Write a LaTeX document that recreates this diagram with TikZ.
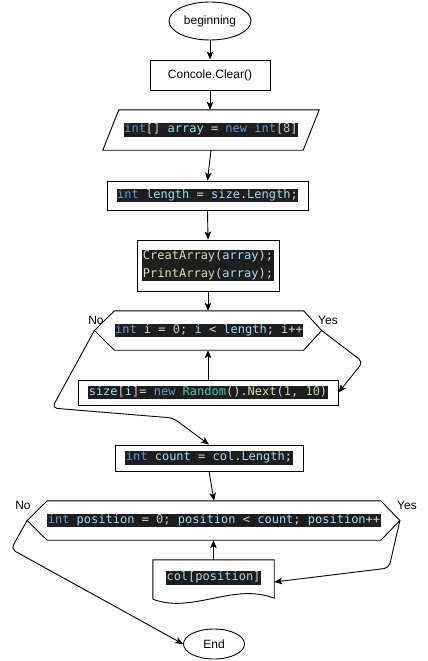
\documentclass[tikz,border=0pt]{standalone}
\usepackage{fontspec}
\setmainfont{Liberation Sans}
\newfontfamily\codefont{DejaVu Sans Mono}
\usetikzlibrary{shapes.geometric,calc,arrows.meta}

% editor-style colours for the code snippets
\definecolor{codebg}{HTML}{1E1E1E}
\definecolor{codekw}{HTML}{569CD6}
\definecolor{codevar}{HTML}{9CDCFE}
\definecolor{codenum}{HTML}{B5CEA8}
\definecolor{codefun}{HTML}{DCDCAA}
\definecolor{codecls}{HTML}{4EC9B0}
\definecolor{codeop}{HTML}{D4D4D4}

\newcommand{\ckw}[1]{\textcolor{codekw}{#1}}
\newcommand{\cvar}[1]{\textcolor{codevar}{#1}}
\newcommand{\cnum}[1]{\textcolor{codenum}{#1}}
\newcommand{\cfun}[1]{\textcolor{codefun}{#1}}
\newcommand{\ccls}[1]{\textcolor{codecls}{#1}}
\newcommand{\cop}[1]{\textcolor{codeop}{#1}}
\newcommand{\codestrut}{\rule[-3.6pt]{0pt}{12.6pt}}
% one highlighted line of code
\newcommand{\codeline}[1]{{\setlength{\fboxsep}{0.5pt}\colorbox{codebg}{\codefont\fontsize{12}{17.5}\selectfont\codestrut#1}}}
% two highlighted lines of code
\newcommand{\codetwo}[2]{{\setlength{\fboxsep}{0.5pt}\colorbox{codebg}{\codefont\fontsize{12}{17.5}\selectfont
  \vbox{\baselineskip=17.5pt\hbox{\codestrut#1}\hbox{\codestrut#2}}}}}

\begin{document}
\begin{tikzpicture}[x=1pt,y=-1pt,
  every node/.style={font=\fontsize{12}{14}\selectfont, inner sep=0pt},
  terminal/.style={draw, ellipse, line width=0.9pt},
  procbox/.style={draw, rectangle, line width=0.9pt},
  frame/.style={rectangle},
  outline/.style={draw, line width=0.9pt, line join=miter},
  arr/.style={draw, line width=0.9pt, -{Stealth[length=8pt,width=6.5pt,inset=2pt]}},
  loopline/.style={arr, rounded corners=5pt},
  branch/.style={font=\fontsize{12}{14}\selectfont}]

\useasboundingbox[fill=white] (0,0) rectangle (428,661);

% start and the first statements
\node[terminal, minimum width=82pt, minimum height=38pt] (b) at (210,21) {beginning};
\node[procbox, minimum width=120pt, minimum height=30pt] (cc) at (210,75) {Concole.Clear()};

% input/output block (parallelogram)
\node[frame, minimum width=200pt, minimum height=40pt] (p) at (211,130)
  {\codeline{\ckw{int}\cop{[]} \cvar{array} \cop{=} \ckw{new} \ckw{int}\cop{[}\cnum{8}\cop{]}}};
\draw[outline] ($(p.north west)+(8,0)$) -- ($(p.north east)+(8,0)$)
  -- ($(p.south east)-(8,0)$) -- ($(p.south west)-(8,0)$) -- cycle;

\node[procbox, minimum width=201pt, minimum height=29pt] (l) at (207.5,195.5)
  {\codeline{\ckw{int} \cvar{length} \cop{=} \cvar{size}\cop{.}\cvar{Length}\cop{;}}};

\node[procbox, minimum width=142pt, minimum height=51pt] (ca) at (208,265.5)
  {\codetwo{\cfun{CreatArray}\cop{(}\cvar{array}\cop{);}}{\cfun{PrintArray}\cop{(}\cvar{array}\cop{);}}};

% first loop header (hexagon)
\node[frame, minimum width=172pt, minimum height=39pt] (h1) at (209,330.5)
  {\codeline{\ckw{int} \cvar{i} \cop{=} \cnum{0}\cop{;} \cvar{i} \cop{<} \cvar{length}\cop{;} \cvar{i}\cop{++}}};
\coordinate (h1l) at ($(h1.west)-(20,0)$);
\coordinate (h1r) at ($(h1.east)+(18,0)$);
\draw[outline] (h1.north west) -- (h1.north east) -- (h1r) -- (h1.south east)
  -- (h1.south west) -- (h1l) -- cycle;
\node[branch] (no1) at (96,320) {No};
\node[branch] (yes1) at (328,320) {Yes};

\node[procbox, minimum width=260pt, minimum height=25pt] (s) at (208,392.5)
  {\codeline{\cvar{size}\cop{[}\cvar{i}\cop{]=} \ckw{new} \ccls{Random}\cop{().}\cfun{Next}\cop{(}\cnum{1}\cop{,} \cnum{10}\cop{)}}};

\node[procbox, minimum width=188pt, minimum height=26pt] (c) at (209,458)
  {\codeline{\ckw{int} \cvar{count} \cop{=} \cvar{col}\cop{.}\cvar{Length}\cop{;}}};

% second loop header (hexagon)
\node[frame, minimum width=328pt, minimum height=39pt] (h2) at (214,520.5)
  {\codeline{\ckw{int} \cvar{position} \cop{=} \cnum{0}\cop{;} \cvar{position} \cop{<} \cvar{count}\cop{;} \cvar{position}\cop{++}}};
\coordinate (h2l) at ($(h2.west)-(20,0)$);
\coordinate (h2r) at ($(h2.east)+(19,0)$);
\draw[outline] (h2.north west) -- (h2.north east) -- (h2r) -- (h2.south east)
  -- (h2.south west) -- (h2l) -- cycle;
\node[branch] (no2) at (23,505) {No};
\node[branch] (yes2) at (407,505) {Yes};

% output document with a wavy lower edge
\node[frame, minimum width=121pt, minimum height=36pt] (d) at (213.5,578)
  {\codeline{\cvar{col}\cop{[}\cvar{position}\cop{]}}};
\draw[outline] ($(d.south west)+(0,3)$) -- (d.north west) -- (d.north east)
  -- ($(d.south east)+(0,2)$)
  .. controls ($(d.south east)+(-41,-14)$) and ($(d.south west)+(40,18)$) .. ($(d.south west)+(0,3)$);

\node[terminal, minimum width=61pt, minimum height=30pt] (e) at (214,644) {End};

% straight flow
\draw[arr] (b.south) -- (cc.north);
\draw[arr] (cc.south) -- (cc.south |- p.north);
\draw[arr] (p.south) -- (l.north);
\draw[arr] (l.south) -- (ca.north);
\draw[arr] (ca.south) -- (ca.south |- h1.north);
\draw[arr] (s.north) -- (s.north |- h1.south);
\draw[arr] (c.south) -- (h2.north);
\draw[arr] (d.north) -- (d.north |- h2.south);

% loop branches
\coordinate (y1) at (363,362);
\draw[loopline] (h1r) -- (y1) -- (s.east);
\coordinate (n1a) at (52,408);
\coordinate (n1b) at (173,418);
\draw[loopline] (h1l) -- (n1a) -- (n1b) -- (c.north);
\coordinate (y2) at (389,568);
\draw[loopline] (h2r) -- (y2) -- ($(d.east)+(0,4)$);
\coordinate (n2) at (11,549);
\draw[loopline] (h2l) -- (n2) -- (e.west);

\end{tikzpicture}
\end{document}
